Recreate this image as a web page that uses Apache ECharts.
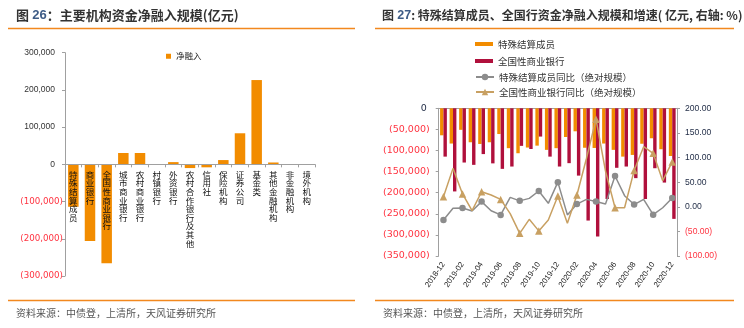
<!DOCTYPE html>
<html>
<head>
<meta charset="utf-8">
<script src="https://cdn.jsdelivr.net/npm/echarts@6/dist/echarts.min.js"></script>
<style>
html,body{margin:0;padding:0;background:#fff;}
#chart{width:744px;height:328px;}
</style>
</head>
<body>
<div id="chart"></div>
<script>
// Figure 26: net funding by institution type (100 million yuan)
const institutions = ['特殊结算成员', '商业银行', '全国性商业银行', '城市商业银行', '农村商业银行', '村镇银行', '外资银行',
  '农村合作银行及其他', '信用社', '保险机构', '证券公司', '基金类', '其他金融机构', '非金融机构', '境外机构'];
const netInflow = [-114000, -206000, -266000, 30500, 30500, 300, 6000, -10000, -8000, 11500, 83500, 226500, 5000, 200, 500];

// Figure 27: monthly net funding of special settlement members and national banks, with YoY (%)
const months = ['2018-12', '2019-01', '2019-02', '2019-03', '2019-04', '2019-05', '2019-06', '2019-07', '2019-08',
  '2019-09', '2019-10', '2019-11', '2019-12', '2020-01', '2020-02', '2020-03', '2020-04', '2020-05', '2020-06',
  '2020-07', '2020-08', '2020-09', '2020-10', '2020-11', '2020-12'];
const specialMembers = [-64000, -83500, -51000, -80500, -84500, -80500, -61000, -94500, -106500, -93000, -88500, -98500,
  -94500, -68000, -54500, -93500, -94000, -83500, -98500, -114500, -110500, -84000, -71000, -97000, -113000];
const nationalBanks = [-114500, -197000, -128500, -134000, -108500, -130500, -143500, -138000, -89000, -96500, -67000, -114500,
  -138000, -130000, -159500, -266000, -304000, -215000, -141000, -138000, -165500, -215000, -142000, -176000, -262000];
const specialYoY = [-27, -3, -2.5, -8.5, 10.5, -8, -16.5, 19, 12, 17, 32, 7, 50, -16.5, 5.5, 15, 10.5, 5.5, 62.5, 22.5,
  4.5, 15, -16, -2, 18];
const nationalYoY = [20.5, 78, 26, -8, 30.5, 24, 15, -14, -54, -25.5, -49, -27, 22, -33.5, 24, 98, 178, 72.5, -2, -2,
  73.5, 122, 108.5, 53, 91];

const ORANGE = '#F28C00';
const CRIMSON = '#B0103C';
const GREY = '#8C8C8C';
const TAN = '#C8A062';
const NEG = '#FF3340';
const DARK = '#1E2A44';
const RULE = '#F2881E';
const CJK = '"Noto Sans CJK SC", sans-serif';

// left panel value range; the category axis sits on its zero line
const LEFT_MIN = -300000, LEFT_MAX = 300000;
const LEFT_GRID = { left: 65, top: 52.7, width: 250, height: 223.3 };
const zeroLift = LEFT_GRID.height * (0 - LEFT_MIN) / (LEFT_MAX - LEFT_MIN);

function thousands(v) {
  return String(Math.round(Math.abs(v))).replace(/\B(?=(\d{3})+(?!\d))/g, ',');
}

const chart = echarts.init(document.getElementById('chart'), null, { renderer: 'canvas' });

const option = {
  animation: false,
  backgroundColor: '#fff',
  textStyle: { fontFamily: CJK },
  graphic: [
    { type: 'text', left: 16, top: 9, style: {
        text: '{a|图} {b|26}{a|：主要机构资金净融入规模(亿元)}',
        rich: {
          a: { fontFamily: CJK, fontSize: 13, fontWeight: 'bold', fill: '#333' },
          b: { fontFamily: 'Liberation Sans', fontSize: 13, fontWeight: 'bold', fill: '#3E5C86' }
        } } },
    { type: 'text', left: 382, top: 9, style: {
        text: '{a|图} {b|27}{a|: 特殊结算成员、全国行资金净融入规模和增速( 亿元, 右轴: %)}',
        rich: {
          a: { fontFamily: CJK, fontSize: 12, fontWeight: 'bold', fill: '#333' },
          b: { fontFamily: 'Liberation Sans', fontSize: 12.5, fontWeight: 'bold', fill: '#3E5C86' }
        } } },
    { type: 'line', shape: { x1: 8, y1: 28.5, x2: 355, y2: 28.5 }, style: { stroke: RULE, lineWidth: 1.5 } },
    { type: 'line', shape: { x1: 375, y1: 28.5, x2: 734, y2: 28.5 }, style: { stroke: RULE, lineWidth: 1.5 } },
    { type: 'line', shape: { x1: 8, y1: 300.5, x2: 355, y2: 300.5 }, style: { stroke: RULE, lineWidth: 1.5 } },
    { type: 'line', shape: { x1: 375, y1: 300.5, x2: 734, y2: 300.5 }, style: { stroke: RULE, lineWidth: 1.5 } },
    { type: 'text', left: 16, top: 308, style: { text: '资料来源：中债登，上清所，天风证券研究所', font: '10px ' + CJK, fill: '#555' } },
    { type: 'text', left: 383, top: 308, style: { text: '资料来源：中债登，上清所，天风证券研究所', font: '10px ' + CJK, fill: '#555' } }
  ],
  legend: [
    { data: [{ name: '净融入', icon: 'rect' }], left: 161, top: 47, itemWidth: 5, itemHeight: 5,
      textStyle: { fontSize: 8.5, color: '#222', fontFamily: CJK } },
    { data: [{ name: '特殊结算成员', icon: 'rect' }, { name: '全国性商业银行', icon: 'rect' }],
      orient: 'vertical', left: 470, top: 33, itemWidth: 18, itemHeight: 4, itemGap: 5,
      textStyle: { fontSize: 9.5, color: '#333', fontFamily: CJK, lineHeight: 12 } },
    { data: ['特殊结算成员同比（绝对规模）', '全国性商业银行同比（绝对规模）'],
      orient: 'vertical', left: 470, top: 66, itemWidth: 18, itemHeight: 8, itemGap: 3,
      textStyle: { fontSize: 9.5, color: '#333', fontFamily: CJK, lineHeight: 12 } }
  ],
  grid: [
    Object.assign({ outerBoundsMode: 'none', containLabel: false }, LEFT_GRID),
    { left: 438.7, top: 108.3, width: 238.3, height: 147.7, outerBoundsMode: 'none', containLabel: false }
  ],
  xAxis: [
    { gridIndex: 0, type: 'category', data: institutions, position: 'bottom', offset: -zeroLift, z: 10,
      axisLine: { onZero: false, lineStyle: { color: '#A0A0A0' } },
      axisTick: { show: true, length: 3, lineStyle: { color: '#A0A0A0' } },
      axisLabel: { interval: 0, margin: 6, fontSize: 8.5, lineHeight: 8.6, color: '#111', fontFamily: CJK,
        textBorderWidth: 0, textShadowBlur: 0,
        formatter: name => name.split('').join('\n') } },
    { gridIndex: 1, type: 'category', data: months, position: 'bottom',
      axisLine: { show: false, onZero: false }, axisTick: { show: false },
      axisLabel: { interval: 1, rotate: 55, margin: 7, fontSize: 7.8, color: '#222', fontFamily: 'Liberation Sans' } },
    { gridIndex: 1, type: 'category', data: months, position: 'top',
      axisLine: { show: true, onZero: false, lineStyle: { color: '#A0A0A0' } },
      axisTick: { show: false }, axisLabel: { show: false } }
  ],
  yAxis: [
    { gridIndex: 0, type: 'value', min: LEFT_MIN, max: LEFT_MAX, interval: 100000,
      splitLine: { show: false },
      axisLine: { show: true, lineStyle: { color: '#A0A0A0' } },
      axisTick: { show: true, length: 3, lineStyle: { color: '#A0A0A0' } },
      axisLabel: { margin: 2,
        formatter: v => v < 0 ? '{n|(' + thousands(v) + ')}' : '{p|' + thousands(v) + '}',
        rich: {
          p: { fontFamily: 'Liberation Sans', fontSize: 8.5, color: '#333', padding: [0, 8, 0, 0] },
          n: { fontFamily: 'DejaVu Sans', fontSize: 8.7, color: NEG }
        } } },
    { gridIndex: 1, type: 'value', position: 'left', min: -350000, max: 0, interval: 50000,
      splitLine: { show: false },
      axisLine: { show: true, lineStyle: { color: '#A0A0A0' } },
      axisTick: { show: true, length: 3, lineStyle: { color: '#A0A0A0' } },
      axisLabel: { margin: 9,
        formatter: v => v < 0 ? '{n|(' + thousands(v) + ')}' : '{p|' + thousands(v) + '}',
        rich: {
          p: { fontFamily: 'DejaVu Sans', fontSize: 9.5, color: DARK, padding: [0, 3, 0, 0] },
          n: { fontFamily: 'DejaVu Sans', fontSize: 9.5, color: NEG }
        } } },
    { gridIndex: 1, type: 'value', position: 'right', min: -100, max: 200, interval: 50,
      splitLine: { show: false },
      axisLine: { show: true, lineStyle: { color: '#A0A0A0' } },
      axisTick: { show: true, length: 3, lineStyle: { color: '#A0A0A0' } },
      axisLabel: { margin: 8,
        formatter: v => v < 0 ? '{n|(' + Math.abs(v).toFixed(2) + ')}' : '{p|' + v.toFixed(2) + '}',
        rich: {
          p: { fontFamily: 'Liberation Sans', fontSize: 8.6, color: DARK },
          n: { fontFamily: 'Liberation Sans', fontSize: 8.6, color: NEG }
        } } }
  ],
  series: [
    { name: '净融入', type: 'bar', xAxisIndex: 0, yAxisIndex: 0, data: netInflow, barWidth: 10.5,
      itemStyle: { color: ORANGE } },
    { name: '特殊结算成员', type: 'bar', xAxisIndex: 1, yAxisIndex: 1, data: specialMembers,
      barWidth: 3.4, barGap: '0%', itemStyle: { color: ORANGE } },
    { name: '全国性商业银行', type: 'bar', xAxisIndex: 1, yAxisIndex: 1, data: nationalBanks,
      barWidth: 3.4, barGap: '0%', itemStyle: { color: CRIMSON } },
    { name: '特殊结算成员同比（绝对规模）', type: 'line', xAxisIndex: 1, yAxisIndex: 2, data: specialYoY,
      symbol: 'circle', symbolSize: 6.5, lineStyle: { color: GREY, width: 1.5 }, itemStyle: { color: GREY } },
    { name: '全国性商业银行同比（绝对规模）', type: 'line', xAxisIndex: 1, yAxisIndex: 2, data: nationalYoY,
      symbol: 'triangle', symbolSize: 7.5, lineStyle: { color: TAN, width: 1.5 }, itemStyle: { color: TAN } }
  ]
};

chart.setOption(option);
</script>
</body>
</html>
